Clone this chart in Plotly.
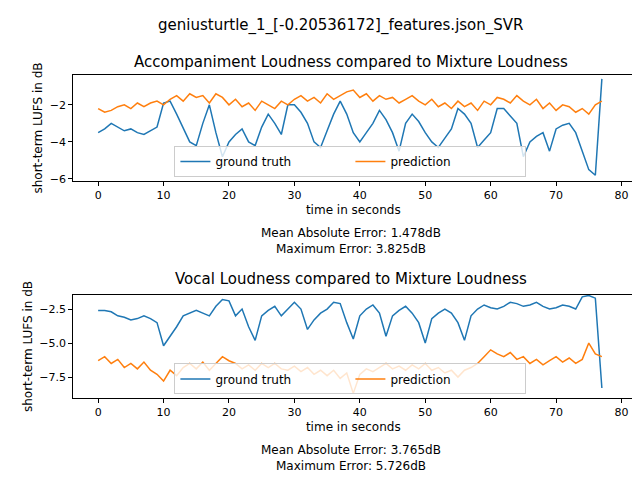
import plotly.graph_objects as go

t = list(range(78))

acc_truth = [-3.5, -3.3, -3.0, -3.2, -3.4, -3.3, -3.5, -3.6, -3.4, -3.2, -1.9, -1.8, -2.5, -3.3, -4.0, -4.2, -3.0, -2.0, -3.5, -4.8,
             -4.0, -3.6, -3.3, -4.0, -4.2, -3.2, -2.5, -3.0, -3.6, -2.0, -2.0, -2.4, -3.0, -4.0, -4.3, -3.4, -2.5, -1.8, -2.5, -3.5,
             -4.0, -3.5, -3.0, -2.3, -2.8, -3.5, -4.5, -3.0, -2.5, -2.9, -3.5, -4.0, -4.3, -3.8, -3.3, -2.2, -2.5, -3.0, -4.3, -3.9,
             -3.5, -2.2, -2.2, -2.6, -3.0, -4.8, -4.0, -3.7, -3.5, -4.5, -3.3, -3.1, -3.0, -3.5, -4.5, -5.5, -5.8, -0.6]
acc_pred = [-2.2, -2.4, -2.3, -2.1, -2.0, -2.2, -1.9, -2.1, -1.9, -1.8, -2.0, -1.7, -1.5, -1.8, -1.4, -1.6, -1.5, -1.9, -1.4, -1.6,
            -2.0, -1.7, -2.1, -1.9, -2.3, -1.8, -2.0, -2.2, -1.8, -2.0, -1.7, -1.5, -1.8, -1.6, -1.9, -1.4, -1.7, -1.5, -1.3, -1.2,
            -1.6, -1.4, -1.8, -1.5, -1.7, -1.6, -1.9, -1.7, -1.5, -1.8, -2.0, -1.7, -2.1, -1.9, -2.2, -1.8, -2.1, -1.9, -2.3, -1.8,
            -2.0, -1.6, -1.7, -1.9, -1.5, -1.8, -2.0, -1.7, -2.2, -1.9, -2.3, -2.0, -2.1, -2.4, -2.2, -2.5, -2.0, -1.8]

voc_truth = [-2.6, -2.6, -2.7, -3.0, -3.1, -3.3, -3.2, -3.0, -3.2, -3.5, -5.2, -4.5, -3.8, -3.0, -2.8, -2.6, -2.8, -3.0, -2.3, -1.8,
             -1.9, -3.0, -2.5, -3.8, -4.8, -3.0, -2.6, -2.3, -3.0, -2.5, -2.0, -2.5, -4.0, -3.3, -2.8, -2.5, -2.0, -2.1, -3.5, -4.7,
             -3.0, -2.5, -2.2, -2.8, -4.5, -3.0, -2.6, -2.3, -2.8, -3.5, -5.0, -3.2, -2.8, -2.5, -2.8, -3.5, -4.8, -3.0, -2.5, -2.2,
             -2.4, -2.5, -2.3, -2.0, -2.1, -2.3, -2.2, -2.0, -2.3, -2.5, -2.4, -2.2, -2.3, -2.5, -1.6, -1.5, -1.7, -8.3]
voc_pred = [-6.3, -6.0, -6.5, -6.2, -6.8, -6.5, -6.9, -6.4, -7.0, -7.3, -7.8, -7.0, -7.4, -6.8, -6.5, -6.9, -6.4, -7.0, -6.5, -6.0,
            -6.3, -6.5, -6.9, -6.6, -7.0, -6.5, -6.8, -6.5, -6.9, -7.0, -6.7, -7.1, -6.8, -7.3, -7.0, -7.4, -7.0, -7.6, -7.2, -8.7,
            -7.3, -6.9, -7.1, -6.8, -6.5, -6.9, -6.7, -7.0, -6.6, -6.9, -6.5, -7.0, -6.8, -7.2, -7.0, -7.5, -7.0, -6.8, -6.5, -6.0,
            -5.5, -5.8, -6.0, -5.7, -6.2, -6.0, -6.5, -6.2, -6.6, -6.3, -6.0, -6.4, -6.1, -6.5, -6.2, -5.0, -5.8, -6.0]

blue, orange = "#1f77b4", "#ff7f0e"
font = dict(family="DejaVu Sans", size=12, color="black")

fig = go.Figure()
fig.add_trace(go.Scatter(x=t, y=acc_truth, mode="lines", line=dict(color=blue, width=1.5), name="ground truth", xaxis="x", yaxis="y", legend="legend"))
fig.add_trace(go.Scatter(x=t, y=acc_pred, mode="lines", line=dict(color=orange, width=1.5), name="prediction", xaxis="x", yaxis="y", legend="legend"))
fig.add_trace(go.Scatter(x=t, y=voc_truth, mode="lines", line=dict(color=blue, width=1.5), name="ground truth", xaxis="x2", yaxis="y2", legend="legend2"))
fig.add_trace(go.Scatter(x=t, y=voc_pred, mode="lines", line=dict(color=orange, width=1.5), name="prediction", xaxis="x2", yaxis="y2", legend="legend2"))

ax = dict(showgrid=False, zeroline=False, showline=True, mirror=True, linecolor="black", ticks="outside",
          tickcolor="black", ticklen=4, tickfont=dict(size=11), automargin=False)
xdom = [0.102, 0.977]
leg = dict(orientation="h", xanchor="center", x=0.535, yanchor="bottom", bgcolor="rgba(255,255,255,0.8)",
           bordercolor="#cccccc", borderwidth=1, font=dict(size=12), entrywidth=130)

fig.update_layout(
    width=640, height=480, margin=dict(l=0, r=0, t=0, b=0, autoexpand=False),
    plot_bgcolor="white", paper_bgcolor="white", font=font,
    xaxis=dict(ax, domain=xdom, anchor="y", range=[-3.8, 81.8], tickvals=list(range(0, 81, 10)),
               title=dict(text="time in seconds", standoff=4, font=dict(size=12))),
    yaxis=dict(ax, domain=[0.640, 0.860], anchor="x", range=[-6.1, -0.4], tickvals=[-6, -4, -2],
               title=dict(text="short-term LUFS in dB", standoff=4, font=dict(size=12))),
    xaxis2=dict(ax, domain=xdom, anchor="y2", range=[-3.8, 81.8], tickvals=list(range(0, 81, 10)),
                title=dict(text="time in seconds", standoff=4, font=dict(size=12))),
    yaxis2=dict(ax, domain=[0.1875, 0.402], anchor="x2", range=[-9.04, -1.47], tickvals=[-7.5, -5.0, -2.5],
                tickformat=".1f", title=dict(text="short-term LUFS in dB", standoff=4, font=dict(size=12))),
    legend=dict(leg, y=0.648),
    legend2=dict(leg, y=0.195),
    showlegend=True,
)

annots = [
    (0.52, 1 - 18 / 480, "geniusturtle_1_[-0.20536172]_features.json_SVR", 15),
    (0.536, 1 - 54 / 480, "Accompaniment Loudness compared to Mixture Loudness", 15),
    (0.536, 1 - 225 / 480, "Mean Absolute Error: 1.478dB", 12),
    (0.536, 1 - 241 / 480, "Maximum Error: 3.825dB", 12),
    (0.536, 1 - 271 / 480, "Vocal Loudness compared to Mixture Loudness", 15),
    (0.536, 1 - 442 / 480, "Mean Absolute Error: 3.765dB", 12),
    (0.536, 1 - 458 / 480, "Maximum Error: 5.726dB", 12),
]
for x, y, text, size in annots:
    fig.add_annotation(x=x, y=y, xref="paper", yref="paper", text=text, showarrow=False,
                       font=dict(size=size), xanchor="center", yanchor="middle")

fig.write_html("out.html")
